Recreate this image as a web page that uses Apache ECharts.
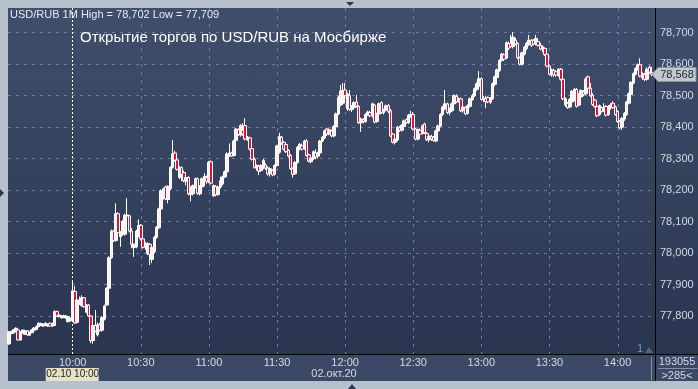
<!DOCTYPE html>
<html><head><meta charset="utf-8">
<script src="https://cdn.jsdelivr.net/npm/echarts@6/dist/echarts.min.js"></script>
<style>
html,body{margin:0;padding:0;background:#b7c1ce}
#c{width:698px;height:389px;
  background:
    linear-gradient(#3c4966,#3c4966) 8px 354px / 690px 27px no-repeat,
    linear-gradient(#3f4e6b,#2a3550) 8px 8px / 690px 346px no-repeat,
    #b7c1ce;}
</style>
</head><body><div id="c"></div><script>
// ---- data ----
const sessionStart = '09:32';
const slotCount = 285;
const openMarkTime = '10:00';
const chartTitle = 'USD/RUB 1M High = 78,702 Low = 77,709';
const overlayTitle = 'Открытие торгов по USD/RUB на Мосбирже';
const dateLabel = '02.окт.20';
const cursorLabel = '02.10 10:00';
const volumeLabel = '193055';
const barsLabel = '>285<';
const priceTicks = [77.8, 77.9, 78.0, 78.1, 78.2, 78.3, 78.4, 78.5, 78.6, 78.7];
// [open, close, low, high]
const ohlc = [
[77.711,77.750,77.709,77.752],[77.744,77.750,77.742,77.754],[77.746,77.756,77.744,77.759],[77.750,77.761,77.748,77.764],
[77.756,77.724,77.722,77.758],[77.724,77.750,77.722,77.752],[77.747,77.755,77.744,77.758],[77.742,77.753,77.740,77.756],
[77.753,77.740,77.738,77.755],[77.739,77.748,77.737,77.751],[77.747,77.756,77.745,77.758],[77.755,77.762,77.752,77.765],
[77.757,77.766,77.755,77.770],[77.766,77.777,77.764,77.780],[77.770,77.776,77.768,77.779],[77.768,77.774,77.766,77.777],
[77.770,77.777,77.768,77.780],[77.768,77.774,77.766,77.776],[77.777,77.768,77.766,77.779],[77.768,77.777,77.766,77.779],
[77.770,77.814,77.768,77.818],[77.814,77.800,77.798,77.817],[77.798,77.803,77.795,77.806],[77.794,77.800,77.792,77.803],
[77.796,77.801,77.793,77.804],[77.794,77.800,77.791,77.803],[77.782,77.798,77.780,77.800],[77.785,77.792,77.782,77.795],
[77.790,77.880,77.785,77.912],[77.878,77.778,77.775,77.895],[77.780,77.851,77.776,77.856],[77.838,77.851,77.835,77.862],
[77.833,77.858,77.830,77.866],[77.858,77.830,77.826,77.860],[77.812,77.835,77.808,77.838],[77.835,77.800,77.797,77.838],
[77.800,77.722,77.714,77.802],[77.722,77.770,77.712,77.787],[77.770,77.752,77.748,77.819],[77.740,77.772,77.735,77.780],
[77.772,77.755,77.750,77.778],[77.755,77.795,77.750,77.800],[77.790,77.832,77.786,77.836],[77.835,77.888,77.832,77.892],
[77.888,77.985,77.885,77.990],[77.985,78.070,77.982,78.075],[78.070,78.040,78.035,78.074],[78.040,78.125,78.036,78.158],
[78.125,78.065,78.060,78.130],[78.052,78.066,78.020,78.070],[78.060,78.100,78.055,78.105],[78.060,78.120,78.055,78.125],
[78.118,78.121,78.100,78.174],[78.118,78.070,78.065,78.122],[78.070,78.028,78.015,78.080],[78.018,78.028,77.988,78.030],
[78.020,78.070,78.015,78.074],[78.055,78.088,78.050,78.107],[78.088,78.045,78.040,78.092],[78.045,78.018,78.014,78.048],
[78.020,78.030,78.010,78.036],[77.998,78.030,77.994,78.034],[78.028,77.995,77.962,78.032],[77.980,78.018,77.968,78.022],
[78.005,78.050,78.000,78.055],[78.050,78.082,78.045,78.086],[78.080,78.140,78.076,78.144],[78.140,78.198,78.136,78.202],
[78.180,78.204,78.170,78.208],[78.210,78.172,78.168,78.214],[78.170,78.212,78.158,78.215],[78.205,78.272,78.200,78.276],
[78.272,78.315,78.268,78.359],[78.318,78.295,78.290,78.325],[78.296,78.266,78.262,78.300],[78.240,78.272,78.235,78.276],
[78.272,78.250,78.228,78.275],[78.256,78.230,78.225,78.262],[78.228,78.240,78.215,78.248],[78.240,78.188,78.183,78.244],
[78.186,78.205,78.164,78.212],[78.188,78.214,78.183,78.218],[78.210,78.236,78.205,78.240],[78.236,78.190,78.185,78.240],
[78.188,78.212,78.183,78.216],[78.210,78.236,78.205,78.240],[78.235,78.244,78.212,78.254],[78.240,78.228,78.220,78.246],
[78.226,78.288,78.222,78.292],[78.290,78.222,78.218,78.294],[78.182,78.214,78.178,78.218],[78.212,78.185,78.180,78.216],
[78.186,78.210,78.182,78.214],[78.210,78.230,78.205,78.243],[78.220,78.242,78.215,78.246],[78.242,78.258,78.238,78.262],
[78.258,78.315,78.254,78.320],[78.312,78.318,78.305,78.348],[78.318,78.308,78.305,78.322],[78.310,78.356,78.306,78.360],
[78.358,78.394,78.354,78.398],[78.392,78.376,78.372,78.396],[78.375,78.405,78.370,78.410],[78.390,78.378,78.372,78.412],
[78.405,78.362,78.358,78.428],[78.360,78.368,78.356,78.372],[78.366,78.330,78.326,78.370],[78.332,78.298,78.294,78.336],
[78.298,78.272,78.268,78.304],[78.270,78.278,78.262,78.282],[78.276,78.260,78.248,78.280],[78.262,78.278,78.258,78.282],
[78.270,78.294,78.266,78.300],[78.280,78.270,78.264,78.285],[78.270,78.252,78.246,78.276],[78.252,78.268,78.243,78.272],
[78.262,78.248,78.244,78.266],[78.250,78.278,78.246,78.282],[78.278,78.340,78.274,78.344],[78.320,78.370,78.316,78.382],
[78.368,78.350,78.344,78.372],[78.352,78.330,78.326,78.356],[78.345,78.322,78.318,78.348],[78.326,78.308,78.304,78.330],
[78.310,78.268,78.264,78.314],[78.268,78.250,78.240,78.272],[78.252,78.288,78.248,78.292],[78.288,78.336,78.284,78.340],
[78.330,78.345,78.326,78.350],[78.340,78.330,78.326,78.348],[78.332,78.356,78.328,78.360],[78.356,78.310,78.306,78.362],
[78.312,78.292,78.288,78.316],[78.290,78.302,78.285,78.306],[78.300,78.322,78.296,78.326],[78.318,78.305,78.298,78.330],
[78.308,78.318,78.300,78.322],[78.318,78.356,78.314,78.360],[78.356,78.368,78.352,78.372],[78.366,78.388,78.362,78.392],
[78.394,78.378,78.372,78.398],[78.378,78.392,78.374,78.396],[78.388,78.372,78.368,78.392],[78.372,78.402,78.368,78.406],
[78.402,78.442,78.398,78.446],[78.442,78.495,78.438,78.500],[78.470,78.515,78.466,78.534],[78.476,78.516,78.470,78.540],
[78.518,78.500,78.495,78.540],[78.458,78.505,78.452,78.510],[78.500,78.456,78.452,78.518],[78.456,78.465,78.448,78.470],
[78.462,78.478,78.458,78.482],[78.480,78.466,78.462,78.502],[78.466,78.414,78.410,78.470],[78.414,78.426,78.385,78.430],
[78.424,78.418,78.412,78.428],[78.418,78.440,78.414,78.444],[78.440,78.448,78.436,78.452],[78.446,78.436,78.432,78.452],
[78.436,78.474,78.430,78.478],[78.470,78.416,78.412,78.474],[78.418,78.442,78.414,78.446],[78.442,78.474,78.438,78.478],
[78.478,78.446,78.442,78.482],[78.446,78.454,78.440,78.458],[78.454,78.468,78.450,78.472],[78.468,78.450,78.444,78.474],
[78.452,78.372,78.368,78.458],[78.378,78.352,78.348,78.382],[78.352,78.362,78.345,78.366],[78.360,78.400,78.355,78.404],
[78.398,78.390,78.385,78.404],[78.390,78.406,78.386,78.410],[78.402,78.420,78.396,78.424],[78.424,78.414,78.410,78.428],
[78.414,78.438,78.410,78.442],[78.436,78.440,78.430,78.452],[78.440,78.394,78.390,78.448],[78.394,78.362,78.358,78.398],
[78.362,78.392,78.358,78.396],[78.390,78.378,78.374,78.396],[78.380,78.404,78.376,78.408],[78.410,78.382,78.378,78.414],
[78.380,78.360,78.356,78.384],[78.360,78.372,78.352,78.376],[78.370,78.362,78.356,78.376],[78.368,78.358,78.354,78.372],
[78.356,78.388,78.352,78.392],[78.388,78.404,78.384,78.408],[78.404,78.440,78.400,78.444],[78.440,78.464,78.436,78.468],
[78.458,78.474,78.454,78.518],[78.474,78.446,78.442,78.478],[78.446,78.458,78.438,78.462],[78.452,78.474,78.448,78.478],
[78.474,78.500,78.470,78.504],[78.498,78.480,78.476,78.504],[78.482,78.490,78.478,78.494],[78.490,78.452,78.448,78.494],
[78.452,78.464,78.446,78.468],[78.462,78.442,78.438,78.466],[78.444,78.468,78.440,78.472],[78.466,78.490,78.462,78.494],
[78.488,78.500,78.484,78.506],[78.500,78.522,78.496,78.526],[78.520,78.538,78.515,78.542],[78.530,78.554,78.526,78.578],
[78.554,78.488,78.484,78.558],[78.488,78.492,78.480,78.498],[78.490,78.480,78.460,78.500],[78.494,78.480,78.476,78.498],
[78.480,78.492,78.474,78.496],[78.490,78.538,78.486,78.542],[78.536,78.560,78.530,78.564],[78.558,78.582,78.554,78.586],
[78.580,78.612,78.576,78.616],[78.612,78.632,78.608,78.636],[78.630,78.616,78.610,78.634],[78.620,78.668,78.616,78.672],
[78.666,78.650,78.645,78.672],[78.666,78.656,78.652,78.693],[78.656,78.686,78.650,78.702],[78.676,78.664,78.660,78.684],
[78.666,78.620,78.616,78.670],[78.620,78.600,78.596,78.624],[78.600,78.636,78.596,78.640],[78.632,78.654,78.628,78.658],
[78.650,78.666,78.644,78.670],[78.662,78.676,78.658,78.693],[78.676,78.660,78.655,78.680],[78.676,78.664,78.660,78.680],
[78.664,78.682,78.660,78.693],[78.672,78.660,78.656,78.676],[78.660,78.648,78.644,78.668],[78.648,78.655,78.638,78.660],
[78.650,78.630,78.626,78.654],[78.632,78.594,78.590,78.636],[78.594,78.568,78.564,78.598],[78.566,78.582,78.560,78.586],
[78.580,78.566,78.560,78.586],[78.576,78.566,78.560,78.580],[78.564,78.584,78.560,78.588],[78.584,78.552,78.548,78.588],
[78.552,78.490,78.486,78.556],[78.470,78.490,78.464,78.494],[78.476,78.462,78.458,78.480],[78.464,78.488,78.460,78.492],
[78.480,78.514,78.476,78.518],[78.500,78.520,78.482,78.524],[78.520,78.466,78.462,78.524],[78.470,78.504,78.466,78.508],
[78.496,78.516,78.490,78.520],[78.512,78.504,78.498,78.518],[78.506,78.552,78.502,78.558],[78.560,78.524,78.520,78.564],
[78.524,78.500,78.496,78.540],[78.500,78.472,78.468,78.508],[78.486,78.466,78.462,78.490],[78.466,78.436,78.432,78.470],
[78.440,78.468,78.436,78.472],[78.462,78.450,78.446,78.466],[78.452,78.462,78.448,78.476],[78.466,78.438,78.434,78.470],
[78.440,78.466,78.436,78.470],[78.462,78.470,78.456,78.476],[78.476,78.462,78.458,78.482],[78.464,78.440,78.436,78.468],
[78.450,78.418,78.414,78.454],[78.418,78.398,78.394,78.422],[78.400,78.428,78.391,78.432],[78.426,78.444,78.420,78.448],
[78.440,78.480,78.436,78.484],[78.476,78.506,78.472,78.510],[78.504,78.542,78.500,78.546],[78.540,78.570,78.536,78.574],
[78.568,78.586,78.564,78.590],[78.584,78.598,78.580,78.602],[78.598,78.562,78.558,78.619],[78.556,78.570,78.550,78.574],
[78.568,78.552,78.546,78.572],[78.552,78.584,78.548,78.590],[78.590,78.574,78.570,78.596],[78.574,78.568,78.562,78.592]
];

// ---- build ----
const FONT = '"Liberation Sans", Arial, sans-serif';
const times = [];
(function(){
  const [h0, m0] = sessionStart.split(':').map(Number);
  for (let i = 0; i < slotCount; i++) {
    const m = h0 * 60 + m0 + i;
    times.push(String(Math.floor(m / 60)).padStart(2, '0') + ':' + String(m % 60).padStart(2, '0'));
  }
})();
const isHalfHour = v => v.endsWith(':00') || v.endsWith(':30');
const fmt = v => v.toFixed(3).replace('.', ',');
const labelColor = '#d4d9e2';
const gridColor = '#7a8aae';

const chart = echarts.init(document.getElementById('c'));

const baseGraphic = [
  { type:'line', id:'hLine', z:50, shape:{x1:8,y1:354.5,x2:698,y2:354.5}, style:{stroke:'#000',lineWidth:1}},
  { type:'line', id:'vLine', z:50, shape:{x1:655.5,y1:8,x2:655.5,y2:381}, style:{stroke:'#000',lineWidth:1}},
  { type:'line', id:'vLine2', z:50, shape:{x1:651.5,y1:357,x2:651.5,y2:380}, style:{stroke:'#8391a8',lineWidth:1}},
  { type:'line', id:'hLine2', z:50, shape:{x1:658,y1:368.5,x2:697,y2:368.5}, style:{stroke:'#8391a8',lineWidth:1}},
  { type:'polygon', id:'triTop', z:50, shape:{points:[[346,2],[354,2],[350,6]]}, style:{fill:'#2c3650'}},
  { type:'polygon', id:'triBot', z:50, shape:{points:[[348,389],[356,389],[352,384]]}, style:{fill:'#2c3650'}},
  { type:'polygon', id:'triLeft', z:50, shape:{points:[[0,189],[0,197],[4,193]]}, style:{fill:'#2c3650'}},
  { type:'text', id:'title', z:60, style:{text:chartTitle, x:10, y:15, fill:'#e8ebf0', font:'11px '+FONT, verticalAlign:'middle'}},
  { type:'text', id:'overlay', z:60, style:{text:overlayTitle, x:80, y:38, fill:'#ffffff', font:'15px '+FONT, verticalAlign:'middle'}},
  { type:'text', id:'date', z:60, style:{text:dateLabel, x:334, y:374, fill:labelColor, font:'11px '+FONT, align:'center', verticalAlign:'middle'}},
  { type:'text', id:'vol', z:60, style:{text:volumeLabel, x:677, y:362, fill:labelColor, font:'11px '+FONT, align:'center', verticalAlign:'middle'}},
  { type:'text', id:'bars', z:60, style:{text:barsLabel, x:677, y:376, fill:labelColor, font:'11px '+FONT, align:'center', verticalAlign:'middle'}},
  { type:'text', id:'one', z:60, style:{text:'1', x:640, y:349, fill:'#5f9de8', font:'11px '+FONT, align:'center', verticalAlign:'middle'}},
  { type:'polygon', id:'oneTri', z:60, shape:{points:[[645,353],[653,353],[649,347]]}, style:{fill:'#55627a'}}
];

chart.setOption({
  animation: false,
  backgroundColor: 'transparent',
  grid: [
    { left: 8, right: 43, top: 8, bottom: 35 },
    { left: 8, right: 43, top: 32.7, bottom: 73 }
  ],
  xAxis: [
    { type:'category', gridIndex:0, data:times, boundaryGap:true,
      axisLine:{show:false}, axisTick:{show:false},
      axisLabel:{interval:(i,v)=>isHalfHour(v), color:labelColor, fontFamily:FONT, fontSize:11, margin:3},
      splitLine:{show:false} },
    { type:'value', gridIndex:1, show:false, min:0, max:1 }
  ],
  yAxis: [
    { type:'value', gridIndex:0, min:77.6793, max:78.7785, show:false, scale:true },
    { type:'value', gridIndex:1, position:'right', min:priceTicks[0], max:priceTicks[priceTicks.length-1], interval:0.1,
      axisLine:{show:false}, axisTick:{show:false},
      axisLabel:{color:labelColor, fontFamily:FONT, fontSize:11, margin:5, formatter:fmt},
      splitLine:{show:true, lineStyle:{color:gridColor, type:[3,5], width:1, opacity:0.8}} }
  ],
  series: [
    { type:'candlestick', xAxisIndex:0, yAxisIndex:0, data:ohlc, barWidth:3,
      itemStyle:{ color:'#fbf0ea', color0:'#e0103c', borderColor:'#ffffff', borderColor0:'#ffffff', borderWidth:1 },
      markLine:{ silent:true, symbol:'none', animation:false, label:{show:false},
        lineStyle:{color:'#ffffff', type:[2,2], width:1},
        data:[{xAxis:openMarkTime}] } }
  ],
  graphic: baseGraphic
});

const lastIdx = ohlc.length - 1;
const lastClose = ohlc[lastIdx][1];
const toPx = (idx, val) => chart.convertToPixel({xAxisIndex:0, yAxisIndex:0}, [idx, val]);
const pLast = toPx(lastIdx, lastClose);
const yc = Math.round(pLast[1]) + 0.5;
const xo = toPx(times.indexOf(openMarkTime), lastClose)[0];
const vGrid = times.map((t, i) => ({t, i})).filter(o => isHalfHour(o.t) && o.t !== openMarkTime).map(o => {
  const x = Math.round(toPx(o.i, lastClose)[0]) + 0.5;
  return { type:'line', id:'vg'+o.i, z:-10, shape:{x1:x, y1:8, x2:x, y2:354},
    style:{stroke:gridColor, lineWidth:1, lineDash:[3,5], opacity:0.8} };
});
chart.setOption({ graphic: baseGraphic.concat(vGrid, [
  { type:'polygon', id:'tag', z:70, shape:{points:[[652,yc],[658,yc-7],[696,yc-7],[696,yc+7],[658,yc+7]]},
    style:{fill:'#c3c7ce', stroke:'#8d94a0', lineWidth:1}},
  { type:'text', id:'tagText', z:71, style:{text:fmt(lastClose), x:677, y:yc, fill:'#1e2533', font:'11px '+FONT, align:'center', verticalAlign:'middle'}},
  { type:'rect', id:'cursorBox', z:70, shape:{x:xo-27, y:368, width:53, height:13}, style:{fill:'#e6e2c6'}},
  { type:'text', id:'cursorText', z:71, style:{text:cursorLabel, x:xo, y:374.5, fill:'#202020', font:'10px '+FONT, align:'center', verticalAlign:'middle'}}
]) });
</script></body></html>
